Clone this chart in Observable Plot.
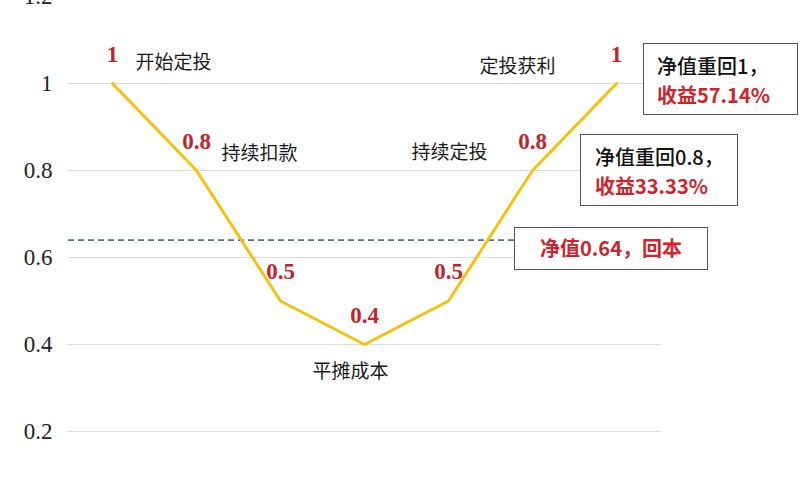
<!DOCTYPE html>
<html><head><meta charset="utf-8">
<script src="https://cdn.jsdelivr.net/npm/d3@7"></script>
<script src="https://cdn.jsdelivr.net/npm/@observablehq/plot@0.6"></script>
<style>
html,body{margin:0;padding:0;background:#fff;}
#wrap{position:relative;width:800px;height:500px;overflow:hidden;background:#fff;}
#wrap svg{position:absolute;left:0;top:0;}
.box{position:absolute;background:#fff;border:1.6px solid #555;box-sizing:border-box;font-family:"Noto Sans CJK SC",sans-serif;font-size:20px;line-height:29px;white-space:nowrap;}
.box .k{color:#111;font-weight:500;}
.box .r{color:#d0222b;font-weight:bold;}
</style></head><body><div id="wrap"></div>
<script>
// ---- data ----
const periods = [0, 1, 2, 3, 4, 5, 6];
const nav = [1, 0.8, 0.5, 0.4, 0.5, 0.8, 1];
const yTicks = [0.2, 0.4, 0.6, 0.8, 1, 1.2];
const breakEven = 0.64;
const stageNotes = ["开始定投", "持续扣款", "平摊成本", "持续定投", "定投获利"];
const box1Lines = ["净值重回1，", "收益57.14%"];
const box2Lines = ["净值重回0.8，", "收益33.33%"];
const box3Text = "净值0.64，回本";

const data = periods.map((p, i) => ({period: p, nav: nav[i]}));
const fmt = v => String(v);

const numFont = "Liberation Serif";
const cjkFont = "Noto Sans CJK SC";
const red = "#c4232b";

function note(idx, text, anchor, dx, dy) {
  return Plot.text([data[idx]], {
    x: "period", y: "nav", text: () => text,
    textAnchor: anchor, dx, dy,
    fontFamily: cjkFont, fontSize: 19, fill: "#1a1a1a"
  });
}

const chart = Plot.plot({
  width: 800,
  height: 500,
  marginLeft: 68,
  marginRight: 140,
  marginTop: 0,
  marginBottom: 0,
  style: {background: "transparent", overflow: "visible"},
  x: {type: "point", domain: periods, range: [68, 660], padding: 0.5, axis: null},
  y: {domain: [0, 1.2], range: [518, -4]},
  marks: [
    Plot.ruleY(yTicks, {stroke: "#d9d9d9", strokeWidth: 1.2}),
    Plot.ruleY([breakEven], {stroke: "#4f7290", strokeWidth: 1.6, strokeDasharray: "6,4"}),
    Plot.axisY(yTicks, {
      tickSize: 0, tickPadding: 16, tickFormat: fmt,
      fontSize: 23, fontFamily: numFont, fill: "#222", label: null, letterSpacing: 1
    }),
    Plot.line(data, {x: "period", y: "nav", stroke: "#F2C20F", strokeWidth: 3, strokeLinejoin: "miter"}),
    Plot.text(data, {
      x: "period", y: "nav", text: d => fmt(d.nav), dy: -29,
      fontFamily: numFont, fontWeight: "bold", fontSize: 23, fill: red, letterSpacing: 1
    }),
    note(0, stageNotes[0], "start", 23, -21),
    note(1, stageNotes[1], "start", 25, -17),
    note(3, stageNotes[2], "middle", -14, 27),
    note(5, stageNotes[3], "end", -45, -18),
    note(6, stageNotes[4], "end", -61, -17)
  ]
});
const wrap = document.getElementById("wrap");
wrap.appendChild(chart);

function addBox(left, top, w, h, html, extra) {
  const d = document.createElement("div");
  d.className = "box";
  d.style.left = left + "px"; d.style.top = top + "px";
  d.style.width = w + "px"; d.style.height = h + "px";
  Object.assign(d.style, extra || {});
  d.innerHTML = html;
  wrap.appendChild(d);
}
addBox(643, 43, 155, 72,
  `<div class="k">${box1Lines[0]}</div><div class="r">${box1Lines[1]}</div>`,
  {paddingLeft: "13px", paddingTop: "7px"});
addBox(580, 134, 158, 72,
  `<div class="k">${box2Lines[0]}</div><div class="r">${box2Lines[1]}</div>`,
  {paddingLeft: "14px", paddingTop: "7px"});
addBox(514, 227, 194, 43,
  `<div class="r" style="color:#d0222b;font-weight:bold">${box3Text}</div>`,
  {textAlign: "center", lineHeight: "40px"});
</script></body></html>
